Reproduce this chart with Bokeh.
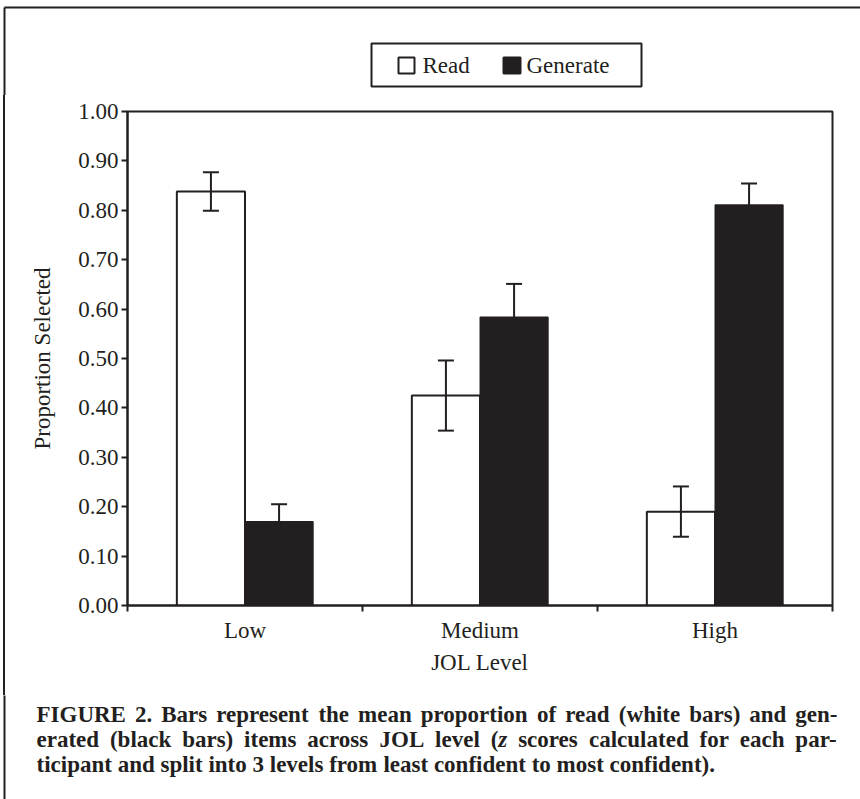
import numpy as np
from bokeh.plotting import figure
from bokeh.layouts import column, row
from bokeh.models import (ColumnDataSource, FixedTicker, NumeralTickFormatter,
                          Whisker, TeeHead, Range1d)
from bokeh.core.properties import value
from bokeh.embed import file_html
from bokeh.resources import INLINE

# ---------------- data ----------------
categories = ["Low", "Medium", "High"]
series_names = ["Read", "Generate"]
read_mean = [0.838, 0.425, 0.190]
read_err = [0.039, 0.071, 0.051]
gen_mean = [0.170, 0.584, 0.811]
gen_err = [0.035, 0.067, 0.043]
y_ticks = [0.0, 0.1, 0.2, 0.3, 0.4, 0.5, 0.6, 0.7, 0.8, 0.9, 1.0]
x_title = "JOL Level"
y_title = "Proportion Selected"
caption_lines = [
    ["FIGURE", "2.", "Bars", "represent", "the", "mean", "proportion", "of", "read",
     "(white", "bars)", "and", "gen-"],
    ["erated", "(black", "bars)", "items", "across", "JOL", "level", [("(", False), ("z", True)],
     "scores", "calculated", "for", "each", "par-"],
    ["ticipant", "and", "split", "into", "3", "levels", "from", "least", "confident", "to",
     "most", "confident)."],
]
caption_justify = [True, True, False]

# ---------------- styles / layout ----------------
DARK = "#231f20"
SERIF = "Liberation Serif"
FS = "23px"
CAP_FS = 23.0
W, H = 860, 799
TOP_H = 95          # legend strip height
MAIN_H = 600        # chart strip height
STRIP_W = 12        # left border strip beside the chart
BORDER_X, BORDER_Y = 4, 7
FL, FR, FT, FB = 127, 832, 111, 605   # chart frame in page pixels


def canvas_fig(x0, x1, y0, y1, **kw):
    f = figure(frame_width=x1 - x0, frame_height=y1 - y0,
               x_range=Range1d(x0, x1), y_range=Range1d(y1, y0),
               min_border=0, x_axis_type=None, y_axis_type=None,
               output_backend="svg", toolbar_location=None, **kw)
    f.grid.visible = False
    f.outline_line_color = None
    return f


# ---------- top strip: outer border + legend ----------
top = canvas_fig(0, W, 0, TOP_H, background_fill_color="white", border_fill_color="white")
top.segment(x0=[BORDER_X, BORDER_X], y0=[BORDER_Y, BORDER_Y], x1=[W + 5, BORDER_X],
            y1=[BORDER_Y, TOP_H + 5], line_color=DARK, line_width=2)
top.quad(left=[371], right=[641], top=[43], bottom=[86], fill_color="white",
         line_color=DARK, line_width=2)
top.quad(left=[398, 503], right=[414, 520], top=[57, 57], bottom=[73, 73],
         fill_color=["white", DARK], line_color=DARK, line_width=2)
top.text(x=[422, 526], y=[65, 65], text=series_names, text_font=value(SERIF),
         text_font_size=FS, text_color=DARK, text_baseline="middle", text_align="left")

# ---------- left strip: border line painted as CSS background ----------
grad = (f"linear-gradient(to right, white {BORDER_X - 1}px, {DARK} {BORDER_X - 1}px, "
        f"{DARK} {BORDER_X + 1}px, white {BORDER_X + 1}px)")
strip = canvas_fig(0, STRIP_W, TOP_H, TOP_H + MAIN_H,
                   background_fill_color=None, border_fill_color=None,
                   styles={"background": grad})
strip.min_border_top = FT - TOP_H
strip.min_border_bottom = TOP_H + MAIN_H - FB
strip.frame_height = FB - FT

# ---------- main chart ----------
p = figure(frame_width=FR - FL, frame_height=FB - FT,
           min_border_left=FL - STRIP_W, min_border_right=W - FR,
           min_border_top=FT - TOP_H, min_border_bottom=TOP_H + MAIN_H - FB,
           x_range=Range1d(0, len(categories)), y_range=Range1d(0, 1),
           output_backend="svg", toolbar_location=None,
           background_fill_color="white", border_fill_color="white")
p.grid.visible = False
p.outline_line_color = DARK
p.outline_line_width = 2

BAR_W = 0.29
idx = np.arange(len(categories)) + 0.5
x_read = idx - BAR_W / 2
x_gen = idx + BAR_W / 2

src_r = ColumnDataSource(dict(x=x_read, top=read_mean,
                              upper=np.array(read_mean) + np.array(read_err),
                              lower=np.array(read_mean) - np.array(read_err)))
src_g = ColumnDataSource(dict(x=x_gen, top=gen_mean,
                              upper=np.array(gen_mean) + np.array(gen_err),
                              lower=np.array(gen_mean) - np.array(gen_err)))

p.vbar(x="x", top="top", bottom=0, width=BAR_W, source=src_r,
       fill_color="white", line_color=DARK, line_width=2)
p.vbar(x="x", top="top", bottom=0, width=BAR_W, source=src_g,
       fill_color=DARK, line_color=DARK, line_width=1)

for src in (src_r, src_g):
    w = Whisker(base="x", upper="upper", lower="lower", source=src,
                line_color=DARK, line_width=2, level="overlay",
                upper_head=TeeHead(size=16, line_color=DARK, line_width=2),
                lower_head=TeeHead(size=16, line_color=DARK, line_width=2))
    p.add_layout(w)

for ax in (p.xaxis[0], p.yaxis[0]):
    ax.axis_line_color = DARK
    ax.axis_line_width = 2
    ax.major_tick_line_color = DARK
    ax.major_tick_line_width = 2
    ax.minor_tick_line_color = DARK
    ax.minor_tick_line_width = 2
    ax.major_label_text_font = SERIF
    ax.major_label_text_font_size = FS
    ax.major_label_text_color = DARK
    ax.axis_label_text_font = SERIF
    ax.axis_label_text_font_size = FS
    ax.axis_label_text_font_style = "normal"
    ax.axis_label_text_color = DARK

xa = p.xaxis[0]
xa.ticker = FixedTicker(ticks=list(idx), minor_ticks=list(range(len(categories) + 1)))
xa.major_label_overrides = {float(v): c for v, c in zip(idx, categories)}
xa.major_tick_out = 0
xa.major_tick_in = 0
xa.minor_tick_out = 6
xa.minor_tick_in = 0
xa.major_label_standoff = 6
xa.axis_label = x_title
xa.axis_label_standoff = 4

ya = p.yaxis[0]
ya.ticker = FixedTicker(ticks=y_ticks)
ya.formatter = NumeralTickFormatter(format="0.00")
ya.major_tick_out = 6
ya.major_tick_in = 0
ya.minor_tick_out = 0
ya.minor_tick_in = 0
ya.major_label_standoff = 3
ya.axis_label = y_title
ya.axis_label_standoff = 20

# ---------- bottom strip: caption ----------
bot = canvas_fig(0, W, TOP_H + MAIN_H, H, background_fill_color="white",
                 border_fill_color="white")
bot.segment(x0=[BORDER_X], y0=[TOP_H + MAIN_H - 5], x1=[BORDER_X], y1=[H + 5],
            line_color=DARK, line_width=2)

TB = {'A': 722, 'B': 667, 'C': 722, 'D': 722, 'E': 667, 'F': 611, 'G': 778, 'H': 778, 'I': 389,
      'J': 500, 'K': 778, 'L': 667, 'M': 944, 'N': 722, 'O': 778, 'P': 611, 'Q': 778, 'R': 722,
      'S': 556, 'T': 667, 'U': 722, 'V': 722, 'W': 1000, 'X': 722, 'Y': 722, 'Z': 667,
      'a': 500, 'b': 556, 'c': 444, 'd': 556, 'e': 444, 'f': 333, 'g': 500, 'h': 556, 'i': 278,
      'j': 333, 'k': 556, 'l': 278, 'm': 833, 'n': 556, 'o': 500, 'p': 556, 'q': 556, 'r': 444,
      's': 389, 't': 333, 'u': 556, 'v': 500, 'w': 722, 'x': 500, 'y': 500, 'z': 444,
      '.': 250, ',': 250, '(': 333, ')': 333, '-': 333, ' ': 250}
TBI_Z = 389


def seg_width(text, italic):
    return sum((TBI_Z if (italic and ch == 'z') else TB.get(ch, 500)) for ch in text) * CAP_FS / 1000


CAP_LEFT, CAP_RIGHT = 36, 837
CAP_Y = [714, 739, 764]
cx, cy_, ct, cs = [], [], [], []
for line, just, cy in zip(caption_lines, caption_justify, CAP_Y):
    words = [w if isinstance(w, list) else [(w, False)] for w in line]
    widths = [sum(seg_width(t, it) for t, it in w) for w in words]
    if just:
        gap = (CAP_RIGHT - CAP_LEFT - sum(widths)) / (len(words) - 1)
    else:
        gap = TB[' '] * CAP_FS / 1000
    xcur = CAP_LEFT
    for w, wd in zip(words, widths):
        xs = xcur
        for t, it in w:
            cx.append(xs)
            cy_.append(cy)
            ct.append(t)
            cs.append("bold italic" if it else "bold")
            xs += seg_width(t, it)
        xcur += wd + gap

cap_src = ColumnDataSource(dict(x=cx, y=cy_, text=ct, style=cs))
bot.text(x="x", y="y", text="text", source=cap_src, text_font=value(SERIF),
         text_font_size=f"{CAP_FS}px", text_font_style="style", text_color=DARK,
         text_baseline="middle", text_align="left")

layout = column(top, row(strip, p), bot)
open("out.html", "w").write(file_html(layout, INLINE))
